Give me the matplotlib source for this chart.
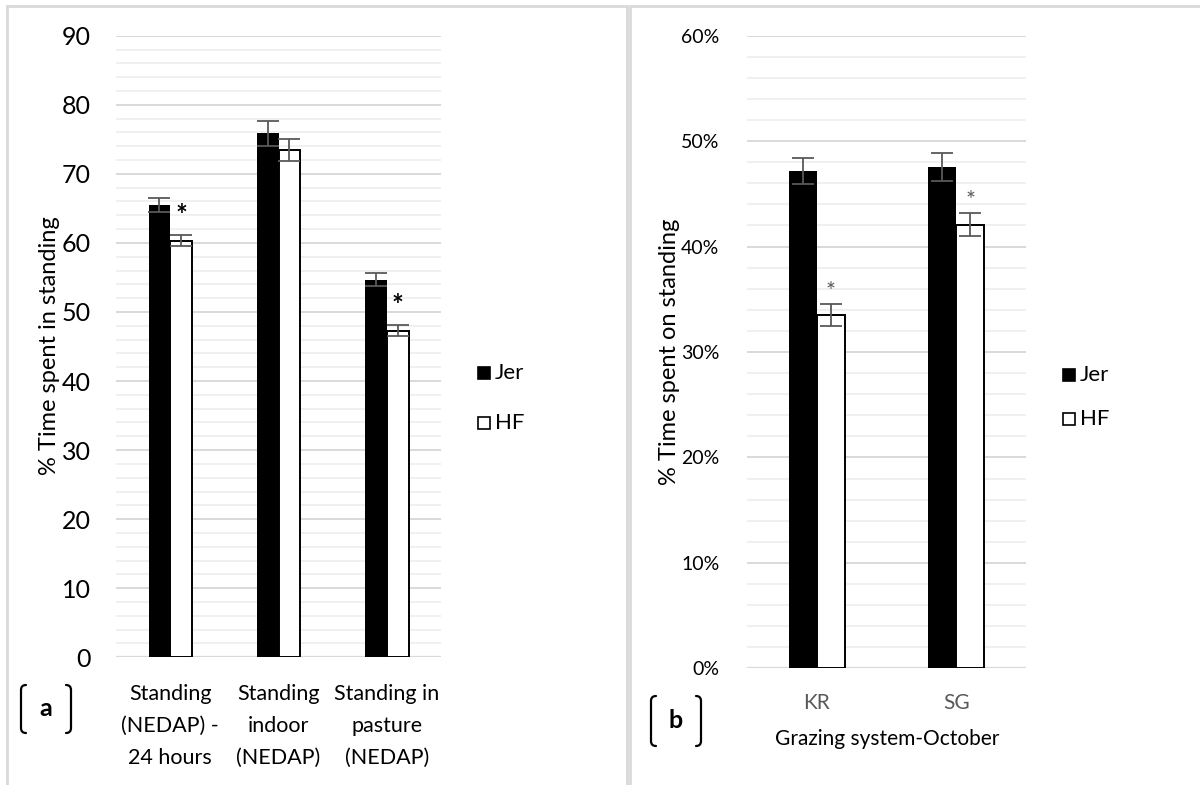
import matplotlib
matplotlib.use("Agg")
import matplotlib.pyplot as plt
from matplotlib.path import Path
from matplotlib.patches import PathPatch, Rectangle
from matplotlib.ticker import MultipleLocator, FuncFormatter

plt.rcParams['font.family'] = ['Lato', 'DejaVu Sans']

# ---- data: panel a (NEDAP standing time, %)
cats_a = ["Standing\n(NEDAP) -\n24 hours", "Standing\nindoor\n(NEDAP)", "Standing in\npasture\n(NEDAP)"]
jer_a = [65.5, 75.9, 54.7]
jer_a_err = [1.0, 1.8, 0.9]
hf_a = [60.3, 73.4, 47.3]
hf_a_err = [0.8, 1.6, 0.75]
sig_a = [True, False, True]

# ---- data: panel b (grazing system, October, fraction of time)
cats_b = ["KR", "SG"]
jer_b = [0.4715, 0.4753]
jer_b_err = [0.0125, 0.0135]
hf_b = [0.3355, 0.4209]
hf_b_err = [0.0105, 0.011]
sig_b = [True, True]

series_names = ["Jer", "HF"]

W, H = 1200, 785
fig = plt.figure(figsize=(W / 100, H / 100), dpi=100)
fig.patch.set_facecolor("white")


def box(x0, y0, x1, y1):
    """Axes rectangle from pixel coords (top-left origin)."""
    return [x0 / W, (H - y1) / H, (x1 - x0) / W, (y1 - y0) / H]


def fx(x):
    return x / W


def fy(y):
    return (H - y) / H


# panel frames
for (x0, x1) in [(7, 627), (630, 1205)]:
    fig.add_artist(Rectangle((fx(x0), fy(800)), fx(x1) - fx(x0), fy(6) - fy(800),
                             transform=fig.transFigure, fill=False,
                             edgecolor="#d9d9d9", linewidth=2.0, zorder=0))

GRID_MAJOR = "#d9d9d9"
GRID_MINOR = "#f0f0f0"
ERR_COLOR = "#595959"


def style_axes(ax, major, minor):
    ax.set_facecolor("none")
    for s in ax.spines.values():
        s.set_visible(False)
    ax.yaxis.set_major_locator(MultipleLocator(major))
    ax.yaxis.set_minor_locator(MultipleLocator(minor))
    ax.grid(axis="y", which="major", color=GRID_MAJOR, linewidth=1.4, zorder=0)
    ax.grid(axis="y", which="minor", color=GRID_MINOR, linewidth=1.4, zorder=0)
    ax.tick_params(axis="both", which="both", length=0)
    ax.set_axisbelow(True)


def draw_bars(ax, jer, jer_err, hf, hf_err, capsize):
    x = list(range(len(jer)))
    xj = [i - 0.1 for i in x]
    xh = [i + 0.1 for i in x]
    ax.bar(xj, jer, width=0.2, color="black", edgecolor="black", linewidth=0, zorder=2)
    ax.bar(xh, hf, width=0.2, color="white", edgecolor="black", linewidth=1.4, zorder=2)
    ax.errorbar(xj, jer, yerr=jer_err, fmt="none", ecolor=ERR_COLOR,
                elinewidth=1.3, capsize=capsize, capthick=1.3, zorder=3)
    ax.errorbar(xh, hf, yerr=hf_err, fmt="none", ecolor=ERR_COLOR,
                elinewidth=1.3, capsize=capsize, capthick=1.3, zorder=3)
    return xh


def bracket_label(letter, x0, x1, y0, y1):
    r = 5
    lw = 1.6
    left = Path([(fx(x0 + r), fy(y0)), (fx(x0), fy(y0)), (fx(x0), fy(y0 + r)),
                 (fx(x0), fy(y1 - r)), (fx(x0), fy(y1)), (fx(x0 + r), fy(y1))],
                [Path.MOVETO, Path.CURVE3, Path.CURVE3, Path.LINETO, Path.CURVE3, Path.CURVE3])
    right = Path([(fx(x1 - r), fy(y0)), (fx(x1), fy(y0)), (fx(x1), fy(y0 + r)),
                  (fx(x1), fy(y1 - r)), (fx(x1), fy(y1)), (fx(x1 - r), fy(y1))],
                 [Path.MOVETO, Path.CURVE3, Path.CURVE3, Path.LINETO, Path.CURVE3, Path.CURVE3])
    for p in (left, right):
        fig.add_artist(PathPatch(p, transform=fig.transFigure, fill=False,
                                 edgecolor="black", linewidth=lw, capstyle="round"))
    fig.text(fx((x0 + x1) / 2), fy((y0 + y1) / 2), letter, fontsize=18, fontweight="bold",
             ha="center", va="center")


def legend(x, ys):
    for name, y, face in zip(series_names, ys, ["black", "white"]):
        fig.add_artist(Rectangle((fx(x), fy(y + 6)), 12 / W, 12 / H,
                                 transform=fig.transFigure, facecolor=face,
                                 edgecolor="black", linewidth=1.2))
        fig.text(fx(x + 17), fy(y), name, fontsize=16, ha="left", va="center")


# ---------------- panel a ----------------
ax_a = fig.add_axes(box(116, 35.7, 441, 657.3))
style_axes(ax_a, 10, 2)
xh_a = draw_bars(ax_a, jer_a, jer_a_err, hf_a, hf_a_err, capsize=8)
ax_a.set_ylim(0, 90)
ax_a.set_xlim(-0.5, len(cats_a) - 0.5)
ax_a.axhline(0, color=GRID_MAJOR, linewidth=1.6, zorder=1)
ax_a.set_xticks(range(len(cats_a)))
ax_a.set_xticklabels(cats_a, fontsize=15.5, linespacing=1.75)
ax_a.tick_params(axis="x", pad=19)
ax_a.tick_params(axis="y", labelsize=18, pad=18)
for x, v, e, s in zip(xh_a, hf_a, hf_a_err, sig_a):
    if s:
        ax_a.annotate("*", xy=(x, v + e), xytext=(0, 6), textcoords="offset pixels",
                      ha="center", va="bottom", fontsize=20, fontweight="bold", color="black")
fig.text(fx(50), fy(346), "% Time spent in standing", rotation=90, fontsize=17,
         ha="center", va="center")
bracket_label("a", 21, 71, 685, 733)
legend(478, [373, 423])

# ---------------- panel b ----------------
ax_b = fig.add_axes(box(747, 35.7, 1026, 668.3))
style_axes(ax_b, 0.10, 0.02)
xh_b = draw_bars(ax_b, jer_b, jer_b_err, hf_b, hf_b_err, capsize=8)
ax_b.set_ylim(0, 0.60)
ax_b.set_xlim(-0.5, len(cats_b) - 0.5)
ax_b.axhline(0, color=GRID_MAJOR, linewidth=1.6, zorder=1)
ax_b.yaxis.set_major_formatter(FuncFormatter(lambda v, p: f"{v * 100:.0f}%"))
ax_b.set_xticks(range(len(cats_b)))
ax_b.set_xticklabels(cats_b, fontsize=15, color="#595959")
ax_b.tick_params(axis="x", pad=18)
ax_b.tick_params(axis="y", labelsize=14, pad=20)
for x, v, e, s in zip(xh_b, hf_b, hf_b_err, sig_b):
    if s:
        ax_b.annotate("*", xy=(x, v + e), xytext=(0, 2), textcoords="offset pixels",
                      ha="center", va="bottom", fontsize=17, color="#595959")
fig.text(fx(670), fy(352), "% Time spent on standing", rotation=90, fontsize=17,
         ha="center", va="center")
fig.text(fx(887), fy(739), "Grazing system-October", fontsize=15, ha="center", va="center")
bracket_label("b", 651, 701, 696, 746)
legend(1063, [375, 419])

fig.savefig("out.png", dpi=100, facecolor="white")
